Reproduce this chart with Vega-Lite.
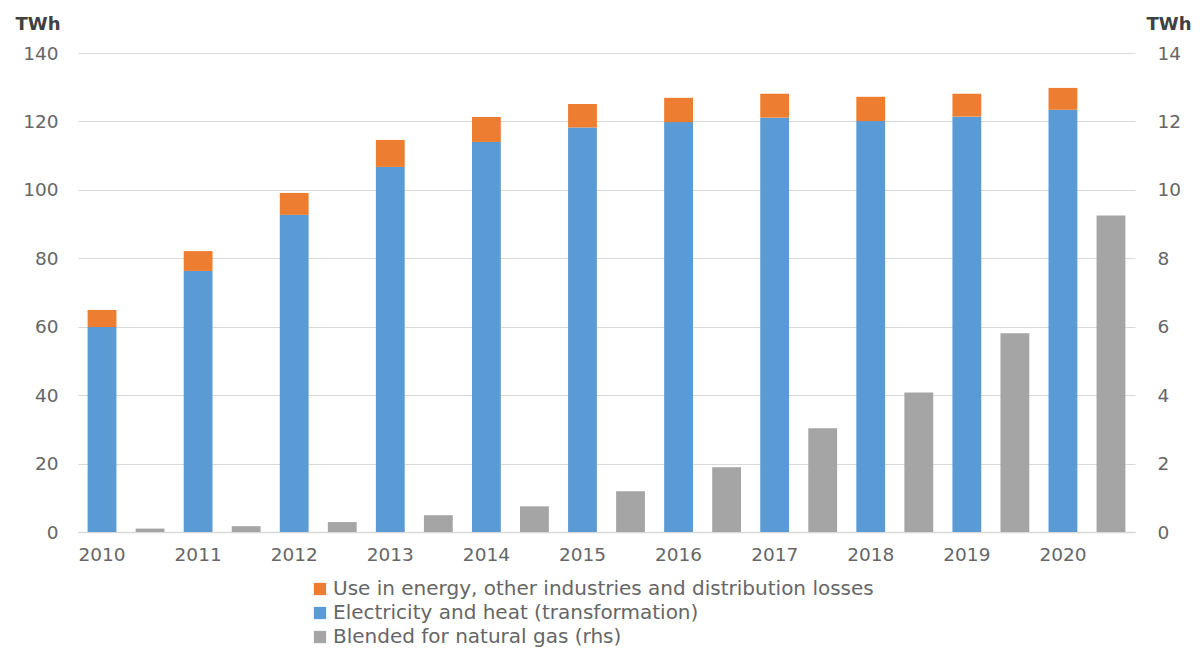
{
  "$schema": "https://vega.github.io/schema/vega-lite/v6.json",
  "autosize": "none",
  "width": 1057,
  "height": 479,
  "padding": {"left": 78, "top": 53, "right": 65, "bottom": 118},
  "background": "white",
  "config": {
    "font": "DejaVu Sans",
    "view": {"stroke": null},
    "axis": {"labelColor": "#666666", "titleColor": "#404040", "labelFontSize": 18.5, "ticks": false, "domain": false}
  },
  "data": {"name": "hydrogen"},
  "datasets": {
    "hydrogen": [
      {"year": "2010", "side": "lhs", "series": "Electricity and heat (transformation)", "value": 59.9},
      {"year": "2010", "side": "lhs", "series": "Use in energy, other industries and distribution losses", "value": 5.0},
      {"year": "2011", "side": "lhs", "series": "Electricity and heat (transformation)", "value": 76.3},
      {"year": "2011", "side": "lhs", "series": "Use in energy, other industries and distribution losses", "value": 5.8},
      {"year": "2012", "side": "lhs", "series": "Electricity and heat (transformation)", "value": 92.7},
      {"year": "2012", "side": "lhs", "series": "Use in energy, other industries and distribution losses", "value": 6.4},
      {"year": "2013", "side": "lhs", "series": "Electricity and heat (transformation)", "value": 106.7},
      {"year": "2013", "side": "lhs", "series": "Use in energy, other industries and distribution losses", "value": 7.9},
      {"year": "2014", "side": "lhs", "series": "Electricity and heat (transformation)", "value": 114.0},
      {"year": "2014", "side": "lhs", "series": "Use in energy, other industries and distribution losses", "value": 7.3},
      {"year": "2015", "side": "lhs", "series": "Electricity and heat (transformation)", "value": 118.2},
      {"year": "2015", "side": "lhs", "series": "Use in energy, other industries and distribution losses", "value": 6.9},
      {"year": "2016", "side": "lhs", "series": "Electricity and heat (transformation)", "value": 119.8},
      {"year": "2016", "side": "lhs", "series": "Use in energy, other industries and distribution losses", "value": 7.1},
      {"year": "2017", "side": "lhs", "series": "Electricity and heat (transformation)", "value": 121.1},
      {"year": "2017", "side": "lhs", "series": "Use in energy, other industries and distribution losses", "value": 7.0},
      {"year": "2018", "side": "lhs", "series": "Electricity and heat (transformation)", "value": 120.1},
      {"year": "2018", "side": "lhs", "series": "Use in energy, other industries and distribution losses", "value": 7.1},
      {"year": "2019", "side": "lhs", "series": "Electricity and heat (transformation)", "value": 121.4},
      {"year": "2019", "side": "lhs", "series": "Use in energy, other industries and distribution losses", "value": 6.7},
      {"year": "2020", "side": "lhs", "series": "Electricity and heat (transformation)", "value": 123.4},
      {"year": "2020", "side": "lhs", "series": "Use in energy, other industries and distribution losses", "value": 6.4},
      {"year": "2010", "side": "rhs", "series": "Blended for natural gas (rhs)", "value": 0.10},
      {"year": "2011", "side": "rhs", "series": "Blended for natural gas (rhs)", "value": 0.17},
      {"year": "2012", "side": "rhs", "series": "Blended for natural gas (rhs)", "value": 0.29},
      {"year": "2013", "side": "rhs", "series": "Blended for natural gas (rhs)", "value": 0.49},
      {"year": "2014", "side": "rhs", "series": "Blended for natural gas (rhs)", "value": 0.75},
      {"year": "2015", "side": "rhs", "series": "Blended for natural gas (rhs)", "value": 1.19},
      {"year": "2016", "side": "rhs", "series": "Blended for natural gas (rhs)", "value": 1.89},
      {"year": "2017", "side": "rhs", "series": "Blended for natural gas (rhs)", "value": 3.03},
      {"year": "2018", "side": "rhs", "series": "Blended for natural gas (rhs)", "value": 4.08},
      {"year": "2019", "side": "rhs", "series": "Blended for natural gas (rhs)", "value": 5.81},
      {"year": "2020", "side": "rhs", "series": "Blended for natural gas (rhs)", "value": 9.25}
    ]
  },
  "encoding": {
    "x": {
      "field": "year",
      "type": "nominal",
      "scale": {"paddingInner": 0, "paddingOuter": 0},
      "axis": {
        "title": null,
        "labelAngle": 0,
        "labelOffset": -24,
        "labelPadding": 13,
        "domain": true,
        "domainColor": "#d9d9d9",
        "domainWidth": 1.5,
        "grid": false
      }
    },
    "xOffset": {
      "field": "side",
      "type": "nominal",
      "scale": {"domain": ["lhs", "rhs"], "paddingInner": 0.4, "paddingOuter": 0.2}
    },
    "color": {
      "field": "series",
      "type": "nominal",
      "scale": {
        "domain": [
          "Use in energy, other industries and distribution losses",
          "Electricity and heat (transformation)",
          "Blended for natural gas (rhs)"
        ],
        "range": ["#ED7D31", "#5B9BD5", "#A5A5A5"]
      },
      "legend": {
        "title": null,
        "orient": "none",
        "legendX": 232,
        "legendY": 526,
        "direction": "vertical",
        "symbolType": "square",
        "symbolSize": 150,
        "symbolStrokeWidth": 0,
        "labelFontSize": 20,
        "labelColor": "#666666",
        "labelLimit": 0,
        "rowPadding": 4,
        "labelOffset": 3
      }
    }
  },
  "layer": [
    {
      "transform": [{"filter": "datum.side === 'lhs'"}],
      "mark": {"type": "bar"},
      "encoding": {
        "y": {
          "field": "value",
          "type": "quantitative",
          "stack": "zero",
          "scale": {"domain": [0, 140]},
          "axis": {
            "title": "TWh",
            "titleAngle": 0,
            "titleAlign": "left",
            "titleBaseline": "alphabetic",
            "titleX": -63,
            "titleY": -24,
            "titleFontSize": 18,
            "titleFontWeight": "bold",
            "values": [0, 20, 40, 60, 80, 100, 120, 140],
            "labelPadding": 20,
            "grid": true,
            "gridColor": "#d9d9d9",
            "gridWidth": 1.2
          }
        },
        "order": {"field": "series", "sort": "ascending"}
      }
    },
    {
      "transform": [{"filter": "datum.side === 'rhs'"}],
      "mark": {"type": "bar"},
      "encoding": {
        "y": {
          "field": "value",
          "type": "quantitative",
          "scale": {"domain": [0, 14]},
          "axis": {
            "orient": "right",
            "title": "TWh",
            "titleAngle": 0,
            "titleAlign": "left",
            "titleBaseline": "alphabetic",
            "titleX": 11,
            "titleY": -24,
            "titleFontSize": 18,
            "titleFontWeight": "bold",
            "values": [0, 2, 4, 6, 8, 10, 12, 14],
            "labelPadding": 22,
            "grid": false
          }
        }
      }
    }
  ],
  "resolve": {"scale": {"y": "independent"}}
}
